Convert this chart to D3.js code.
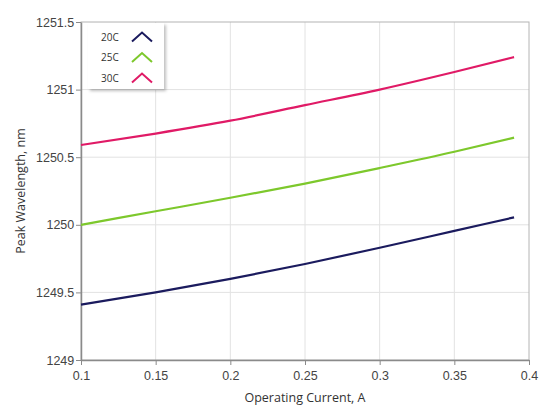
<!DOCTYPE html>
<html>
<head>
<meta charset="utf-8">
<script src="https://cdn.jsdelivr.net/npm/d3@7"></script>
<style>
  body { margin: 0; background: #fff; }
  svg { font-family: "Open Sans", "Noto Sans", sans-serif; }
</style>
</head>
<body>
<svg id="chart" width="552" height="419"></svg>
<script>
// operating current (A) and peak wavelength (nm) per temperature
var current = [0.10, 0.15, 0.20, 0.25, 0.30, 0.35, 0.39];
var wl20 = [1249.41, 1249.50, 1249.60, 1249.71, 1249.83, 1249.955, 1250.055];
var wl25 = [1250.00, 1250.10, 1250.20, 1250.305, 1250.42, 1250.54, 1250.645];
var wl30 = [1250.59, 1250.675, 1250.77, 1250.885, 1251.00, 1251.13, 1251.24];
var seriesNames = ["20C", "25C", "30C"];
var xTicks = [0.1, 0.15, 0.2, 0.25, 0.3, 0.35, 0.4];
var yTicks = [1249, 1249.5, 1250, 1250.5, 1251, 1251.5];

var colors = ["#1b1b5e", "#7dc82c", "#e01a66"];
var series = [wl20, wl25, wl30].map(function(vals, i) {
  return { name: seriesNames[i], color: colors[i],
           pts: vals.map(function(v, j) { return [current[j], v]; }) };
});

var svg = d3.select("#chart"),
    margin = { left: 81, right: 23, top: 22, bottom: 59 },
    width = +svg.attr("width"),
    height = +svg.attr("height");

var x = d3.scaleLinear().domain([0.1, 0.4]).range([margin.left, width - margin.right]);
var y = d3.scaleLinear().domain([1249, 1251.5]).range([height - margin.bottom, margin.top]);

// grid
svg.append("g").selectAll("line.gx")
  .data(xTicks.slice(1, -1))
  .enter().append("line")
  .attr("x1", function(d) { return x(d); }).attr("x2", function(d) { return x(d); })
  .attr("y1", y(1249)).attr("y2", y(1251.5))
  .attr("stroke", "#e2e2e2");
svg.append("g").selectAll("line.gy")
  .data(yTicks.slice(1, -1))
  .enter().append("line")
  .attr("x1", x(0.1)).attr("x2", x(0.4))
  .attr("y1", function(d) { return y(d); }).attr("y2", function(d) { return y(d); })
  .attr("stroke", "#e2e2e2");

// frame
svg.append("rect")
  .attr("x", x(0.1)).attr("y", y(1251.5))
  .attr("width", x(0.4) - x(0.1)).attr("height", y(1249) - y(1251.5))
  .attr("fill", "none").attr("stroke", "#b4b4b4");

var xAxis = svg.append("g")
  .attr("transform", "translate(0," + y(1249) + ")")
  .call(d3.axisBottom(x).tickValues(xTicks).tickFormat(d3.format("")).tickSize(5).tickSizeOuter(0));
var yAxis = svg.append("g")
  .attr("transform", "translate(" + x(0.1) + ",0)")
  .call(d3.axisLeft(y).tickValues(yTicks).tickFormat(d3.format("")).tickSize(5).tickSizeOuter(0));

[xAxis, yAxis].forEach(function(a) {
  a.select(".domain").attr("stroke", "#8a8a8a").attr("stroke-width", 1.5);
  a.selectAll(".tick line").attr("stroke", "#8a8a8a");
  a.selectAll(".tick text").attr("fill", "#444").style("font-size", "12.5px");
});
xAxis.selectAll(".tick text").attr("dy", "0.95em");
yAxis.selectAll(".tick text").attr("dx", "0.1em");

// axis titles
svg.append("text")
  .attr("x", (x(0.1) + x(0.4)) / 2).attr("y", 402)
  .attr("text-anchor", "middle").attr("fill", "#333")
  .style("font-size", "12.5px")
  .text("Operating Current, A");
svg.append("text")
  .attr("transform", "translate(25," + ((y(1249) + y(1251.5)) / 2) + ") rotate(-90)")
  .attr("text-anchor", "middle").attr("fill", "#333")
  .style("font-size", "12.5px")
  .text("Peak Wavelength, nm");

// lines
var line = d3.line()
  .x(function(d) { return x(d[0]); })
  .y(function(d) { return y(d[1]); })
  .curve(d3.curveMonotoneX);

svg.append("g").selectAll("path")
  .data(series)
  .enter().append("path")
  .attr("d", function(d) { return line(d.pts); })
  .attr("fill", "none")
  .attr("stroke", function(d) { return d.color; })
  .attr("stroke-width", 2.2);

// legend
var defs = svg.append("defs");
var f = defs.append("filter").attr("id", "shadow").attr("x", "-20%").attr("y", "-20%").attr("width", "140%").attr("height", "140%");
f.append("feDropShadow").attr("dx", 2).attr("dy", 2).attr("stdDeviation", 1.5).attr("flood-color", "#000").attr("flood-opacity", 0.25);

var lg = svg.append("g");
lg.append("rect")
  .attr("x", 88).attr("y", 23).attr("width", 76).attr("height", 66)
  .attr("fill", "#fff").attr("filter", "url(#shadow)");

var rows = lg.selectAll("g.row")
  .data(series)
  .enter().append("g")
  .attr("transform", function(d, i) { return "translate(0," + (37 + i * 20.5) + ")"; });
rows.append("text")
  .attr("x", 101).attr("y", 0).attr("dy", "0.35em")
  .attr("fill", "#333").style("font-size", "10px")
  .text(function(d) { return d.name; });
rows.append("path")
  .attr("d", "M132,4.5 L142,-4.5 L152,4.5")
  .attr("fill", "none")
  .attr("stroke", function(d) { return d.color; })
  .attr("stroke-width", 2);
</script>
</body>
</html>
